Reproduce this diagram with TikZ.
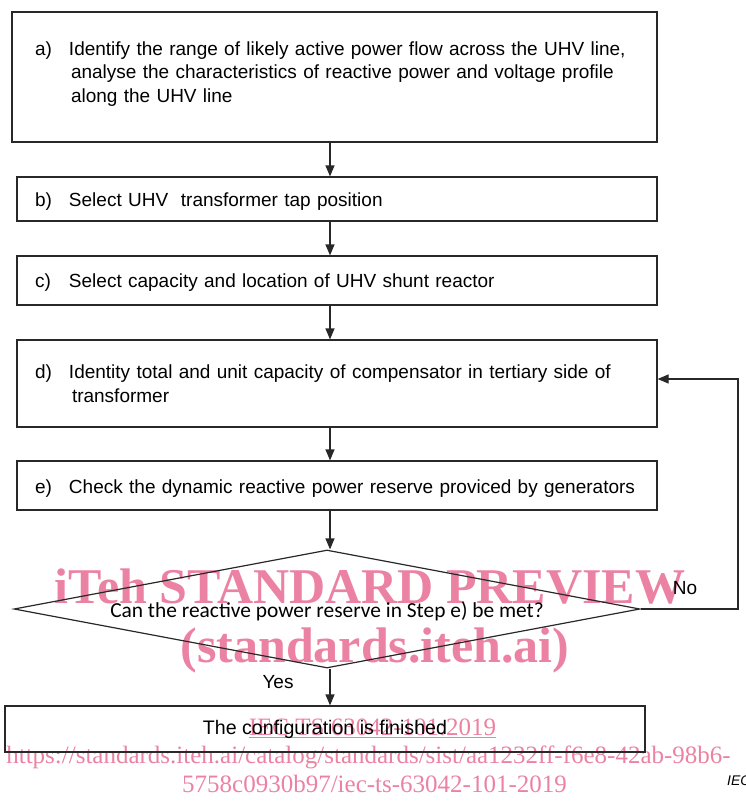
\documentclass[tikz,border=0pt]{standalone}
\usepackage{fontspec}
\setmainfont{Liberation Sans}
\newfontfamily\calibfont{Carlito}
\newfontfamily\wmfont{Liberation Serif}
\usetikzlibrary{shapes.geometric,arrows.meta,calc}
\definecolor{wm}{RGB}{236,130,163}
\definecolor{ln}{RGB}{40,40,40}
\newcommand{\stepl}[2]{\mbox{\makebox[34pt][l]{#1}#2}}
\newcommand{\contl}[1]{\mbox{\hspace*{36pt}#1}}
\begin{document}
\begin{tikzpicture}[x=1pt,y=-1pt,
  box/.style={draw=ln, line width=1.2pt, rectangle, inner ysep=0pt, align=left,
    font=\fontsize{19}{23.5}\selectfont},
  arr/.style={draw=ln, line width=1.2pt, -{Triangle[length=11pt,width=9pt]}},
  lbl/.style={inner sep=0pt, font=\fontsize{19}{23.5}\selectfont},
  wmbig/.style={text=wm, inner sep=0pt, anchor=base, font=\wmfont\bfseries\fontsize{50}{50}\selectfont},
  wmsmall/.style={text=wm, inner sep=0pt, anchor=base, font=\wmfont\fontsize{25}{25}\selectfont}]
\useasboundingbox (0,0) rectangle (745,801);

% watermark
\node[wmbig] (wm1) at (370,603) {iTeh STANDARD PREVIEW};
\node[wmbig] (wm2) at (375,662) {(standards.iteh.ai)};
\node[wmsmall] (wm3) at (372.5,735) {\underline{IEC TS 63042-101:2019}};
\node[wmsmall] (wm4) at (368.5,763) {https://standards.iteh.ai/catalog/standards/sist/aa1232ff-f6e8-42ab-98b6-};
\node[wmsmall] (wm5) at (374.5,792) {5758c0930b97/iec-ts-63042-101-2019};

% boxes
\node[box, inner xsep=23pt, text width=599pt, minimum width=645pt, minimum height=130pt] (a) at (334.5,77)
  {\stepl{a)}{Identify the range of likely active power flow across the UHV line,}\\
   \contl{analyse the characteristics of reactive power and voltage profile}\\
   \contl{along the UHV line}\rule[-10pt]{0pt}{10pt}};
\node[box, inner xsep=18pt, text width=604pt, minimum width=640pt, minimum height=44pt] (b) at (337,199)
  {\rule{0pt}{18.5pt}\stepl{b)}{Select UHV\ \ transformer tap position}};
\node[box, inner xsep=18pt, text width=604pt, minimum width=640pt, minimum height=49pt] (c) at (337,280.5)
  {\rule{0pt}{18pt}\stepl{c)}{Select capacity and location of UHV shunt reactor}};
\node[box, inner xsep=18pt, text width=604pt, minimum width=640pt, minimum height=87pt] (d) at (337,383.5)
  {\stepl{d)}{Identity total and unit capacity of compensator in tertiary side of}\\
   \mbox{\hspace*{37pt}transformer}};
\node[box, inner xsep=18pt, text width=604pt, minimum width=640pt, minimum height=49pt] (e) at (337,485.5)
  {\rule{0pt}{20pt}\stepl{e)}{Check the dynamic reactive power reserve proviced by generators}};
\node[diamond, draw=ln, line width=1.2pt, aspect=5.3, inner sep=0pt, minimum width=626pt, minimum height=118pt,
  text height=16pt, text depth=0pt,
  font=\calibfont\fontsize{21.4}{24}\selectfont] (dia) at (327,609)
  {Can the reactive power reserve in Step e) be met?};
\node[box, align=center, inner xsep=0pt, minimum width=640pt, minimum height=46pt,
  font=\fontsize{19.6}{23.5}\selectfont] (fin) at (325,729)
  {The configuration is finished};

% labels
\node[lbl] (yes) at (278,682) {Yes};
\node[lbl] (no) at (685,588) {No};
\node[inner sep=0pt, anchor=base west, font=\itshape\fontsize{14}{16}\selectfont] (iec) at (727,785) {IEC};

% connectors
\coordinate (ax) at (330,0);
\coordinate (fb) at (738,379);
\draw[arr] (a.south -| ax) -- (b.north -| ax);
\draw[arr] (b.south -| ax) -- (c.north -| ax);
\draw[arr] (c.south -| ax) -- (d.north -| ax);
\draw[arr] (d.south -| ax) -- (e.north -| ax);
\draw[arr] (e.south -| ax) -- (dia.north -| ax);
\draw[arr] (dia.south -| ax) -- (fin.north -| ax);
\draw[arr] (dia.east) -| (fb) -- (fb -| d.east);
\end{tikzpicture}
\end{document}
